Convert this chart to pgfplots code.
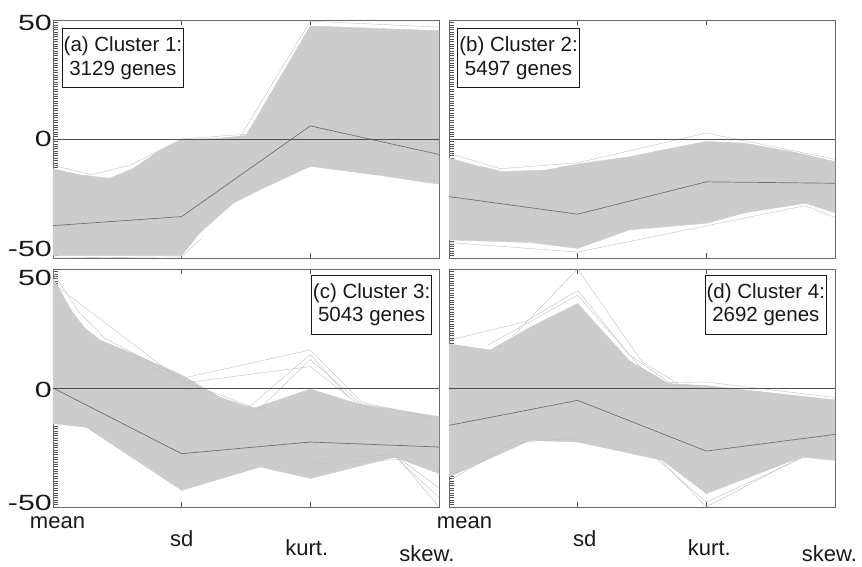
\documentclass[border=0pt]{standalone}
\usepackage{pgfplots}
\pgfplotsset{compat=1.18}
\usepackage{graphicx}
\usepackage{fontspec}
\setmainfont{Liberation Sans}
\definecolor{bandcol}{RGB}{204,204,204}
\definecolor{outcol}{RGB}{192,192,192}
\definecolor{meancol}{RGB}{112,112,112}
\definecolor{zerocol}{RGB}{80,80,80}
\definecolor{framecol}{RGB}{105,105,105}
\definecolor{txtcol}{RGB}{25,25,25}
\pgfplotsset{
  panel/.style={
    scale only axis, width=386pt, height=238pt, anchor=south west,
    xmin=0, xmax=3, ymin=-50, ymax=50, clip=false,
    xtick={1,2}, xticklabels={}, ytick={-50,0,50}, yticklabels={},
    minor y tick num=49, ytick pos=left, xtick pos=both,
    tick align=inside, major tick length=5pt, minor tick length=4.5pt,
    axis line style={draw=framecol, line width=0.8pt},
    every tick/.style={draw=zerocol, line width=0.45pt},
    minor tick style={draw=zerocol, line width=0.4pt},
  },
}
\tikzset{
  band/.style={fill=bandcol, draw=bandcol, line width=0.4pt},
  outl/.style={draw=outcol, line width=0.4pt},
  meanl/.style={draw=meancol, line width=0.7pt},
  zerol/.style={draw=zerocol, line width=0.8pt},
  lab/.style={draw=txtcol, line width=0.6pt, fill=white, align=center, inner xsep=1.5pt, inner ysep=8.5pt, text=txtcol, font=\fontsize{20.5}{23.3}\selectfont},
  ytl/.style={anchor=east, inner sep=0pt, text=txtcol, font=\fontsize{22}{24}\selectfont},
  xtl/.style={anchor=base, inner sep=0pt, text=txtcol, font=\fontsize{22}{24}\selectfont},
}
\newcommand{\yl}[1]{\scalebox{1.38}[1]{#1}}
\begin{document}
\begin{tikzpicture}
\useasboundingbox (0,0) rectangle (862pt,567pt);
% ---------- (a) ----------
\begin{axis}[panel, at={(53pt,309pt)}]
\addplot[band] coordinates {(0,-12.5) (0.2,-15) (0.44,-16.5) (0.62,-12.5) (0.81,-5.5) (1,-0.3) (1.3,0.3) (1.5,1.5) (2,47.5) (2.5,46.5) (3,45.5)
  (3,-19) (2.5,-15) (2,-11.5) (1.66,-20) (1.4,-27) (1.14,-39.5) (1.03,-47) (1,-49) (0,-49)};
\addplot[outl] coordinates {(1.45,0.5) (2,49.5) (3,47)};
\addplot[outl] coordinates {(0,-11) (0.3,-15) (0.6,-11) (1,0) (1.5,2)};
\addplot[outl] coordinates {(0,-50) (1,-49.5) (1.15,-42)};
\addplot[meanl] coordinates {(0,-36.4) (1,-32.6) (2,5.5) (3,-6.5)};
\addplot[zerol] coordinates {(0,0) (3,0)};
\node[lab, anchor=north west] at (rel axis cs:0.023,0.966) {(a) Cluster 1:\\3129 genes};
\node[ytl, xshift=-1pt, yshift=-2.8pt] at (axis cs:0,50) {\yl{50}};
\node[ytl, xshift=-1pt] at (axis cs:0,0) {\yl{0}};
\node[ytl, xshift=-1pt, yshift=9pt] at (axis cs:0,-50) {\yl{-50}};
\end{axis}
% ---------- (b) ----------
\begin{axis}[panel, at={(449pt,309pt)}]
\addplot[band] coordinates {(0,-8) (0.2,-11) (0.42,-13.7) (0.76,-13) (1,-10.5) (1.4,-7.5) (1.66,-4.6) (2,-1) (2.3,-1.8) (2.69,-5.6) (3,-9.5)
  (3,-31) (2.77,-27) (2.3,-31) (2,-35.4) (1.4,-38.2) (1,-46) (0.63,-43.5) (0,-42.4)};
\addplot[outl] coordinates {(0,-6) (0.4,-12.5) (1,-10) (2,2.5) (3,-8.5)};
\addplot[outl] coordinates {(0,-43.5) (1,-47.5) (2,-36.5) (2.77,-28) (3,-33)};
\addplot[meanl] coordinates {(0,-24.2) (1,-31.6) (2,-18) (3,-18.6)};
\addplot[zerol] coordinates {(0,0) (3,0)};
\node[lab, anchor=north west] at (rel axis cs:0.022,0.966) {(b) Cluster 2:\\5497 genes};
\end{axis}
% ---------- (c) ----------
\begin{axis}[panel, at={(53pt,60pt)}]
\addplot[band] coordinates {(0,46) (0.15,32) (0.25,25) (0.37,20) (0.62,14.5) (1,5.5) (1.3,-4) (1.56,-8.5) (2,-0.5) (2.36,-6.5) (3,-12)
  (3,-36) (2.66,-29) (2,-38) (1.61,-33.2) (1,-43) (0.26,-16.5) (0,-15)};
\addplot[outl] coordinates {(0,48.5) (0.2,32) (0.4,21) (1,4) (2,16) (2.4,-6) (3,-13)};
\addplot[outl] coordinates {(0,44) (1,3) (1.6,-9) (2,12) (2.4,-7)};
\addplot[outl] coordinates {(0.5,17) (1,2) (2,9) (2.4,-8)};
\addplot[outl] coordinates {(1.5,-9) (2,14) (2.3,-4)};
\addplot[outl] coordinates {(2,-30) (2.66,-28) (3,-50)};
\addplot[outl] coordinates {(2,-31) (2.66,-29) (3,-46)};
\addplot[outl] coordinates {(2,-32) (2.7,-30) (3,-42)};
\addplot[meanl] coordinates {(0,0) (1,-27.6) (2,-22.7) (3,-24.8)};
\addplot[zerol] coordinates {(0,0) (3,0)};
\node[lab, anchor=north east] at (rel axis cs:0.982,0.976) {(c) Cluster 3:\\5043 genes};
\node[ytl, xshift=-1pt, yshift=-8.7pt] at (axis cs:0,50) {\yl{50}};
\node[ytl, xshift=-1pt, yshift=-2.3pt] at (axis cs:0,0) {\yl{0}};
\node[ytl, xshift=-1pt, yshift=4pt] at (axis cs:0,-50) {\yl{-50}};
\node[xtl, xshift=4.5pt, yshift=-21.5pt] at (axis cs:0,-50) {mean};
\node[xtl, yshift=-39.7pt] at (axis cs:1,-50) {sd};
\node[xtl, xshift=-3.6pt, yshift=-49pt] at (axis cs:2,-50) {kurt.};
\node[xtl, xshift=-12pt, yshift=-54.7pt] at (axis cs:3,-50) {skew.};
\end{axis}
% ---------- (d) ----------
\begin{axis}[panel, at={(449pt,60pt)}]
\addplot[band] coordinates {(0,18.5) (0.32,16) (0.63,25.5) (1,35.5) (1.4,11.5) (1.71,1.8) (2,1) (3,-5)
  (3,-30.4) (2.74,-29) (2,-44.4) (1.66,-30.4) (1,-22.7) (0.63,-22) (0,-37.4)};
\addplot[outl] coordinates {(0.5,22) (1,50) (1.5,11) (1.8,1)};
\addplot[outl] coordinates {(0,20) (0.6,28) (1,41) (1.4,14) (1.75,1)};
\addplot[outl] coordinates {(0.3,18) (0.7,30) (1,39) (1.5,8)};
\addplot[outl] coordinates {(1.5,2) (2,2.5) (3,-4)};
\addplot[outl] coordinates {(1.66,-31) (2,-50) (2.74,-29)};
\addplot[outl] coordinates {(1.6,-29) (2,-48) (2.8,-28)};
\addplot[outl] coordinates {(0,-39) (0.5,-23) (1,-21)};
\addplot[meanl] coordinates {(0,-15.7) (1,-5.2) (2,-26.5) (3,-19.5)};
\addplot[zerol] coordinates {(0,0) (3,0)};
\node[lab, anchor=north east] at (rel axis cs:0.979,0.976) {(d) Cluster 4:\\2692 genes};
\node[xtl, xshift=15.5pt, yshift=-21.5pt] at (axis cs:0,-50) {mean};
\node[xtl, xshift=7pt, yshift=-39.7pt] at (axis cs:1,-50) {sd};
\node[xtl, xshift=3pt, yshift=-49pt] at (axis cs:2,-50) {kurt.};
\node[xtl, xshift=-5.5pt, yshift=-54.7pt] at (axis cs:3,-50) {skew.};
\end{axis}
\end{tikzpicture}
\end{document}
